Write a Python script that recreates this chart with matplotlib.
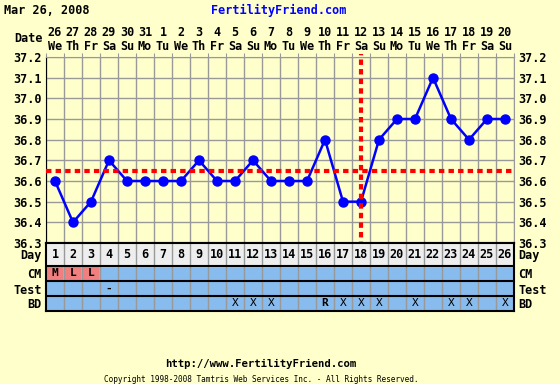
import numpy as np
import matplotlib.pyplot as plt
import matplotlib.transforms as mtransforms

# chart data
days = list(range(1, 27))
dates = ['26', '27', '28', '29', '30', '31', '1', '2', '3', '4', '5', '6', '7',
         '8', '9', '10', '11', '12', '13', '14', '15', '16', '17', '18', '19', '20']
weekdays = ['We', 'Th', 'Fr', 'Sa', 'Su', 'Mo', 'Tu', 'We', 'Th', 'Fr', 'Sa', 'Su', 'Mo',
            'Tu', 'We', 'Th', 'Fr', 'Sa', 'Su', 'Mo', 'Tu', 'We', 'Th', 'Fr', 'Sa', 'Su']
temps = [36.6, 36.4, 36.5, 36.7, 36.6, 36.6, 36.6, 36.6, 36.7, 36.6, 36.6, 36.7, 36.6,
         36.6, 36.6, 36.8, 36.5, 36.5, 36.8, 36.9, 36.9, 37.1, 36.9, 36.8, 36.9, 36.9]
coverline = 36.65
ovulation_day = 18
cm = {1: 'M', 2: 'L', 3: 'L'}
test = {4: '-'}
bd = {11: 'X', 12: 'X', 13: 'X', 16: 'R', 17: 'X', 18: 'X', 19: 'X',
      21: 'X', 23: 'X', 24: 'X', 26: 'X'}
yticks = [36.3, 36.4, 36.5, 36.6, 36.7, 36.8, 36.9, 37.0, 37.1, 37.2]

BG = '#FFFFCC'
BLUE_CELL = '#88BBEE'
PINK = '#F08080'
GRID = '#999999'
FONT = 'DejaVu Sans Mono'

W, H = 560, 384
fig = plt.figure(figsize=(W / 100, H / 100), dpi=100, facecolor=BG)

def fx(px):
    return px / W

def fy(py):
    return 1 - py / H

# temperature chart
ax = fig.add_axes([fx(46), fy(243), fx(514) - fx(46), fy(57) - fy(243)])
ax.set_facecolor(BG)
ax.set_xlim(0.5, 26.5)
ax.set_ylim(36.3, 37.2)
ax.set_xticks(np.arange(0.5, 27, 1))
ax.set_yticks(yticks)
ax.grid(True, color=GRID, linewidth=1)
ax.tick_params(axis='x', which='both', top=True, bottom=False, labelbottom=False,
               length=3, color=GRID, direction='out')
ax.tick_params(axis='y', length=0, labelright=True, pad=3)
ax.set_yticklabels([f'{t:.1f}' for t in yticks], fontfamily=FONT,
                   fontweight='bold', fontsize=8.5)
for side in ['top', 'right']:
    ax.spines[side].set_color(GRID)
ax.spines['left'].set_color('black')
ax.spines['bottom'].set_color('black')
ax.spines['bottom'].set_linewidth(1.5)

ax.plot(days, temps, color='#0000FF', linewidth=1.8, marker='o', markersize=6.5, zorder=3,
        clip_on=False)
ax.axhline(coverline, color='red', linewidth=3, linestyle=(0, (1.3, 1)), zorder=4)
ax.axvline(ovulation_day, color='red', linewidth=3, linestyle=(0, (1.3, 1)), zorder=4,
           ymin=-0.02, ymax=1.015, clip_on=False)

# header: dates / weekdays
hdr = mtransforms.blended_transform_factory(ax.transData, fig.transFigure)
for d, dt, wd in zip(days, dates, weekdays):
    ax.text(d, fy(33), dt, transform=hdr, ha='center', va='center',
            fontfamily=FONT, fontweight='bold', fontsize=8.5)
    ax.text(d, fy(46), wd, transform=hdr, ha='center', va='center',
            fontfamily=FONT, fontweight='bold', fontsize=8.5)
fig.text(fx(43), fy(39), 'Date', ha='right', va='center',
         fontfamily=FONT, fontweight='bold', fontsize=8.5)

# table below chart
rows = ['Day', 'CM', 'Test', 'BD']
edges = [0, 23, 38, 53, 68]
ax2 = fig.add_axes([fx(46), fy(311), fx(514) - fx(46), fy(243) - fy(311)])
ax2.set_xlim(0.5, 26.5)
ax2.set_ylim(68, 0)
ax2.set_facecolor(BLUE_CELL)
ax2.axhspan(0, 23, color='#EEEEEE', zorder=0)
ax2.vlines(np.arange(1.5, 26.5, 1), 0, 68, color=GRID, linewidth=1, zorder=2)
ax2.hlines(edges[1:4], 0.5, 26.5, color='black', linewidth=1.5, zorder=3)
for s in ax2.spines.values():
    s.set_color('black')
    s.set_linewidth(1.5)
ax2.set_xticks([])
centers = [(a + b) / 2 for a, b in zip(edges[:-1], edges[1:])]
ax2.set_yticks(centers)
ax2.set_yticklabels(rows, fontfamily=FONT, fontweight='bold', fontsize=8.5)
ax2.tick_params(axis='y', length=0, labelright=True, pad=3)

cm_days = list(cm.keys())
ax2.bar(cm_days, [14] * len(cm_days), bottom=[23.5] * len(cm_days), width=0.88,
        color=PINK, zorder=1)

for d in days:
    ax2.text(d, centers[0], str(d), ha='center', va='center',
             fontfamily=FONT, fontweight='bold', fontsize=8.5, zorder=4)
for row, marks in [(1, cm), (2, test), (3, bd)]:
    for d, m in marks.items():
        ax2.text(d, centers[row], m, ha='center', va='center', fontfamily=FONT,
                 fontweight='bold' if row < 3 or m == 'R' else 'normal',
                 fontsize=8, zorder=4)

# titles and footer
fig.text(fx(4), fy(10), 'Mar 26, 2008', ha='left', va='center',
         fontfamily=FONT, fontweight='bold', fontsize=8.5)
fig.text(fx(279), fy(10), 'FertilityFriend.com', ha='center', va='center',
         fontfamily=FONT, fontweight='bold', fontsize=8.5, color='#0000FF')
fig.text(fx(261), fy(364), 'http://www.FertilityFriend.com', ha='center', va='center',
         fontfamily=FONT, fontweight='bold', fontsize=7.7)
fig.text(fx(261), fy(379), 'Copyright 1998-2008 Tamtris Web Services Inc. - All Rights Reserved.',
         ha='center', va='center', fontfamily=FONT, fontsize=5.6)

fig.savefig('out.png', dpi=100, facecolor=BG)
